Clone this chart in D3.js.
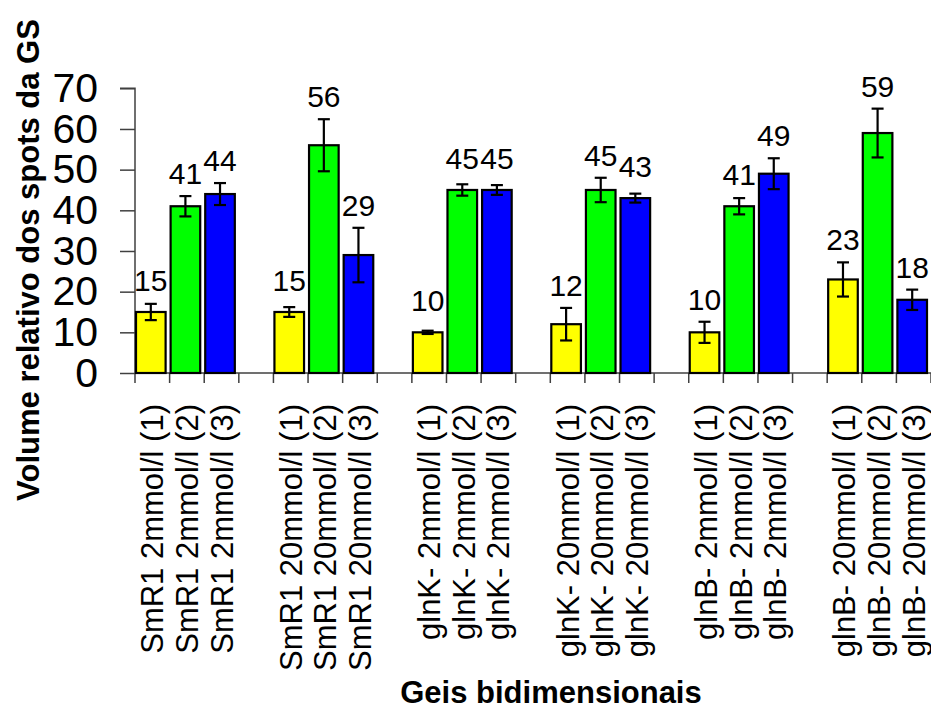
<!DOCTYPE html>
<html>
<head>
<meta charset="utf-8">
<script src="https://cdn.jsdelivr.net/npm/d3@7"></script>
<style>
  html, body { margin: 0; padding: 0; background: #fff; }
  svg { display: block; font-family: "Liberation Sans", Arial, sans-serif; }
</style>
</head>
<body>
<svg id="chart" width="931" height="709"></svg>
<script>
// Groups of two-dimensional gels, three replicates each
const groups = ["SmR1 2mmol/l", "SmR1 20mmol/l", "glnK- 2mmol/l", "glnK- 20mmol/l", "glnB- 2mmol/l", "glnB- 20mmol/l"];
const replicates = ["(1)", "(2)", "(3)"];
const replicateColors = ["#ffff00", "#00ff00", "#0000ff"];

// Relative GS spot volume per replicate and its error
const rep1 = [15, 15, 10, 12, 10, 23];
const rep2 = [41, 56, 45, 45, 41, 59];
const rep3 = [44, 29, 45, 43, 49, 18];
const err1 = [2.0, 1.2, 0.4, 4.0, 2.6, 4.2];
const err2 = [2.5, 6.4, 1.4, 3.0, 2.0, 6.0];
const err3 = [2.7, 6.7, 1.2, 1.1, 3.8, 2.5];

const yTicks = [0, 10, 20, 30, 40, 50, 60, 70];
const yTitle = "Volume relativo dos spots da GS";
const xTitle = "Geis bidimensionais";

const values = [rep1, rep2, rep3];
const errors = [err1, err2, err3];

// Each group takes three slots, separated by an empty slot
const nSlots = groups.length * 4 - 1;
const bars = [];
groups.forEach((g, gi) => {
  replicates.forEach((r, ri) => {
    bars.push({
      slot: gi * 4 + ri,
      label: g + " " + r,
      value: values[ri][gi],
      err: errors[ri][gi],
      color: replicateColors[ri]
    });
  });
});

const svg = d3.select("#chart");
const plotLeft = 135, plotRight = 931, plotTop = 88.3, plotBottom = 373;

const x = d3.scaleBand().domain(d3.range(nSlots)).range([plotLeft, plotRight]).paddingInner(0).paddingOuter(0);
const y = d3.scaleLinear().domain([0, 70]).range([plotBottom, plotTop]);
const bw = x.bandwidth();

// Y axis
const yAxis = svg.append("g").attr("transform", `translate(${plotLeft},0)`)
  .call(d3.axisLeft(y).tickValues(yTicks).tickSize(15).tickPadding(22).tickFormat(d3.format("d")));
yAxis.select(".domain").attr("stroke", "#404040").attr("stroke-width", 1.5).attr("d", `M-15,${plotTop}H0V${plotBottom}`);
yAxis.selectAll(".tick line").attr("stroke", "#404040").attr("stroke-width", 1.5);
yAxis.selectAll(".tick text").attr("font-size", 41).attr("fill", "#000").attr("font-family", "'Liberation Sans', Arial, sans-serif");

// X axis line and slot boundary ticks
const xAxisG = svg.append("g");
xAxisG.append("line").attr("x1", plotLeft).attr("x2", plotRight).attr("y1", plotBottom).attr("y2", plotBottom)
  .attr("stroke", "#404040").attr("stroke-width", 1.5);
xAxisG.selectAll("line.tk").data(d3.range(nSlots + 1)).join("line").attr("class", "tk")
  .attr("x1", d => plotLeft + d * bw).attr("x2", d => plotLeft + d * bw)
  .attr("y1", plotBottom).attr("y2", plotBottom + 10)
  .attr("stroke", "#404040").attr("stroke-width", 1.5);

// Bars
svg.append("g").selectAll("rect").data(bars).join("rect")
  .attr("x", d => x(d.slot) + 1)
  .attr("width", bw - 5)
  .attr("y", d => y(d.value))
  .attr("height", d => y(0) - y(d.value))
  .attr("fill", d => d.color)
  .attr("stroke", "#000").attr("stroke-width", 2.2);

// Error bars
const eg = svg.append("g").attr("stroke", "#000").attr("stroke-width", 2.2);
bars.forEach(d => {
  const cx = x(d.slot) + 1 + (bw - 5) / 2;
  eg.append("line").attr("x1", cx).attr("x2", cx).attr("y1", y(d.value + d.err)).attr("y2", y(d.value - d.err));
  eg.append("line").attr("x1", cx - 6).attr("x2", cx + 6).attr("y1", y(d.value + d.err)).attr("y2", y(d.value + d.err));
  eg.append("line").attr("x1", cx - 6).attr("x2", cx + 6).attr("y1", y(d.value - d.err)).attr("y2", y(d.value - d.err));
});

// Value labels above each bar
svg.append("g").selectAll("text").data(bars).join("text")
  .attr("x", d => x(d.slot) + 1 + (bw - 5) / 2)
  .attr("y", d => Math.min(y(d.value) - 21, y(d.value + d.err) - 12))
  .attr("text-anchor", "middle")
  .attr("font-size", 30)
  .attr("fill", "#000")
  .text(d => d.value);

// Category labels, rotated
svg.append("g").selectAll("text").data(bars).join("text")
  .attr("transform", d => `translate(${x(d.slot) + bw / 2 + 11},404) rotate(-90)`)
  .attr("text-anchor", "end")
  .attr("font-size", 31)
  .attr("fill", "#000")
  .text(d => d.label);

// Axis titles
svg.append("text")
  .attr("transform", "translate(39,260) rotate(-90)")
  .attr("text-anchor", "middle")
  .attr("font-size", 31).attr("font-weight", "bold")
  .text(yTitle);

svg.append("text")
  .attr("x", 551).attr("y", 703)
  .attr("text-anchor", "middle")
  .attr("font-size", 31).attr("font-weight", "bold")
  .text(xTitle);
</script>
</body>
</html>
